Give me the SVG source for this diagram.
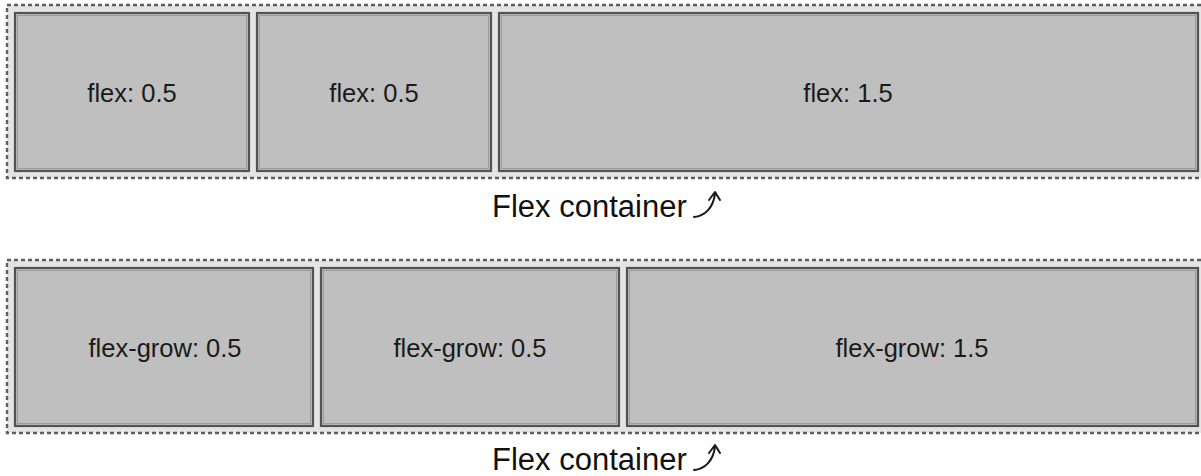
<svg xmlns="http://www.w3.org/2000/svg" width="1201" height="476" viewBox="0 0 1201 476">
<style>
.cont{fill:#e4e4e4;stroke:#5e5e5e;stroke-width:2.4;stroke-dasharray:4 3}
.item{fill:#bfbfbf;stroke:#525252;stroke-width:2.2}
.inner{fill:none;stroke:#9c9c9c;stroke-width:1}
.lbl{font-family:"Liberation Sans",Arial,sans-serif;font-size:25.5px;fill:#1a1a1a;text-anchor:middle}
.cap{font-family:"Liberation Sans",Arial,sans-serif;font-size:31px;fill:#111}
.arr{fill:none;stroke:#1a1a1a;stroke-width:2;stroke-linecap:round;stroke-linejoin:round}
</style>
<rect width="1201" height="476" fill="#ffffff"/>
<g id="container1">
<rect class="cont" x="7" y="5" width="1199" height="173"/>
</g>
<g id="item1a"><rect class="item" x="15" y="13" width="234" height="158"/><rect class="inner" x="17.5" y="15.5" width="229" height="153"/><text class="lbl" x="132" y="102">flex: 0.5</text></g>
<g id="item1b"><rect class="item" x="257" y="13" width="234" height="158"/><rect class="inner" x="259.5" y="15.5" width="229" height="153"/><text class="lbl" x="374" y="102">flex: 0.5</text></g>
<g id="item1c"><rect class="item" x="499" y="13" width="699" height="158"/><rect class="inner" x="501.5" y="15.5" width="694" height="153"/><text class="lbl" x="848" y="102">flex: 1.5</text></g>
<g id="label1"><text class="cap" x="492" y="217">Flex container</text></g>

<g id="container2">
<rect class="cont" x="7" y="260" width="1199" height="173"/>
</g>
<g id="item2a"><rect class="item" x="15" y="268" width="298" height="158"/><rect class="inner" x="17.5" y="270.5" width="293" height="153"/><text class="lbl" x="165" y="357">flex-grow: 0.5</text></g>
<g id="item2b"><rect class="item" x="321" y="268" width="298" height="158"/><rect class="inner" x="323.5" y="270.5" width="293" height="153"/><text class="lbl" x="470" y="357">flex-grow: 0.5</text></g>
<g id="item2c"><rect class="item" x="627" y="268" width="571" height="158"/><rect class="inner" x="629.5" y="270.5" width="566" height="153"/><text class="lbl" x="912" y="357">flex-grow: 1.5</text></g>
<g id="label2"><text class="cap" x="492" y="470">Flex container</text></g>
<g id="connectors">
<path class="arr" d="M694,217 C705,216 713,208 715,194 M709,200 L715,192 L720,200"/>
<path class="arr" d="M694,470 C705,469 713,461 715,447 M709,453 L715,445 L720,453"/>
</g>
</svg>
